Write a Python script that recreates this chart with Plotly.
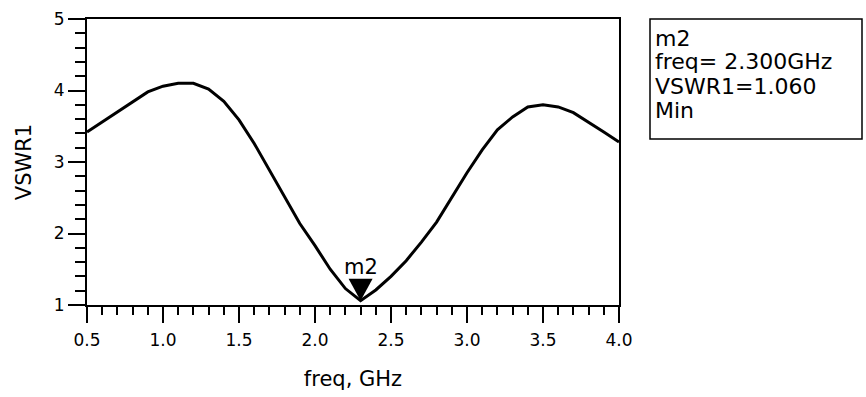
import plotly.graph_objects as go

# ---- data ----
freq = [0.5, 0.9, 1.0, 1.1, 1.2, 1.3, 1.4, 1.5, 1.6, 1.7, 1.8, 1.9, 2.0, 2.1, 2.2,
        2.3, 2.4, 2.5, 2.6, 2.7, 2.8, 2.9, 3.0, 3.1, 3.2, 3.3, 3.4, 3.5, 3.6, 3.7,
        3.8, 3.9, 4.0]
vswr = [3.42, 3.98, 4.06, 4.10, 4.10, 4.02, 3.85, 3.59, 3.26, 2.89, 2.50, 2.14,
        1.83, 1.50, 1.23, 1.06, 1.21, 1.40, 1.62, 1.88, 2.16, 2.51, 2.85, 3.17,
        3.45, 3.63, 3.77, 3.80, 3.77, 3.69, 3.56, 3.42, 3.28]

marker_name = "m2"
marker_freq = [2.3]
marker_vswr = [1.06]
readout_lines = ["m2", "freq= 2.300GHz", "VSWR1=1.060", "Min"]

x_tickvals = [0.5, 1.0, 1.5, 2.0, 2.5, 3.0, 3.5, 4.0]
x_ticktext = ["0.5", "1.0", "1.5", "2.0", "2.5", "3.0", "3.5", "4.0"]
y_tickvals = [1, 2, 3, 4, 5]
y_ticktext = ["1", "2", "3", "4", "5"]

# ---- layout geometry ----
W, H = 866, 397
L, R, T, B = 87, 247, 19, 92
PW, PH = W - L - R, H - T - B
FONT = "DejaVu Sans"


def px_x(px):
    return (px - L) / PW


def px_y(py):
    return (H - B - py) / PH


fig = go.Figure()
fig.add_trace(go.Scatter(x=freq, y=vswr, mode="lines",
                         line=dict(color="black", width=3),
                         hoverinfo="skip", showlegend=False))

# marker triangle (tip at the marker point)
fig.add_shape(type="path", xref="x", yref="y",
              xsizemode="pixel", ysizemode="pixel",
              xanchor=marker_freq[0], yanchor=marker_vswr[0],
              path="M0,0 L-12,22 L12,22 Z",
              fillcolor="black", line=dict(width=0))
fig.add_annotation(x=marker_freq[0], y=marker_vswr[0], xref="x", yref="y",
                   text=marker_name, showarrow=False, yanchor="bottom",
                   yshift=20, font=dict(family=FONT, size=21, color="black"))

# readout box
fig.add_shape(type="rect", xref="paper", yref="paper",
              x0=px_x(650), x1=px_x(862), y0=px_y(139), y1=px_y(19),
              line=dict(color="black", width=1.5), fillcolor="white", layer="above")
line_mid = [38, 62, 86, 110]
for txt, py in zip(readout_lines, line_mid):
    fig.add_annotation(x=px_x(653), y=px_y(py), xref="paper", yref="paper",
                       text=txt, showarrow=False, xanchor="left", yanchor="middle",
                       font=dict(family=FONT, size=22, color="black"))

fig.update_layout(
    width=W, height=H,
    margin=dict(l=L, r=R, t=T, b=B, pad=0),
    paper_bgcolor="white", plot_bgcolor="white",
    font=dict(family=FONT, color="black"),
    showlegend=False,
)
fig.update_xaxes(
    range=[0.5, 4.0], tickvals=x_tickvals, ticktext=x_ticktext,
    ticks="outside", ticklen=16, tickwidth=2, tickcolor="black",
    minor=dict(ticks="outside", ticklen=8, tickwidth=2, tickcolor="black", dtick=0.1, tick0=0.5),
    showline=True, linecolor="black", linewidth=2, mirror=True,
    showgrid=False, zeroline=False,
    tickfont=dict(family=FONT, size=17, color="black"),
    ticklabelstandoff=3,
    title=dict(text="freq, GHz", font=dict(family=FONT, size=21, color="black"), standoff=22),
    automargin=False,
)
fig.update_yaxes(
    range=[1, 5], tickvals=y_tickvals, ticktext=y_ticktext,
    ticks="outside", ticklen=17, tickwidth=2, tickcolor="black",
    minor=dict(ticks="outside", ticklen=10, tickwidth=2, tickcolor="black", dtick=0.2, tick0=1),
    showline=True, linecolor="black", linewidth=2, mirror=True,
    showgrid=False, zeroline=False,
    tickfont=dict(family=FONT, size=17, color="black"),
    title=dict(text="VSWR1", font=dict(family=FONT, size=21, color="black"), standoff=16),
    automargin=False,
)

fig.write_html("out.html")
